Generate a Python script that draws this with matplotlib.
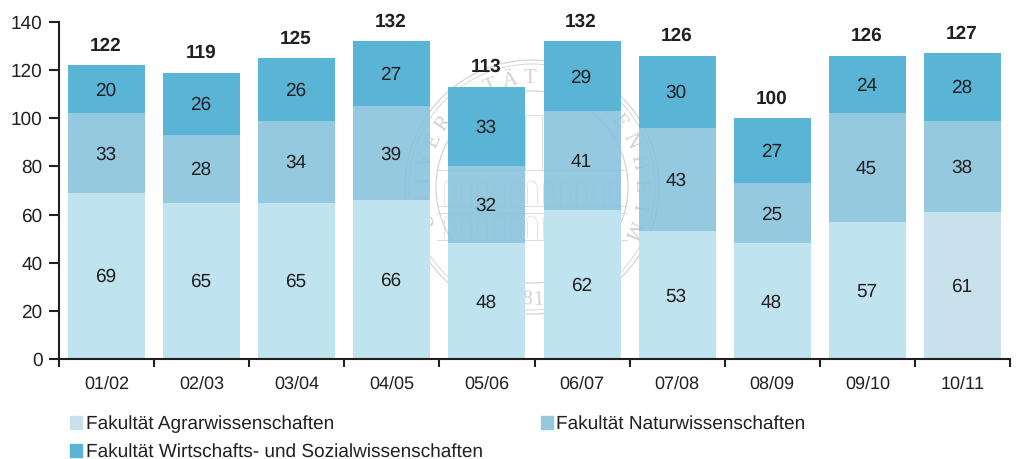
import matplotlib
matplotlib.use("Agg")
import matplotlib.pyplot as plt
import matplotlib.transforms as mtrans
from matplotlib.patches import Arc, Circle, Patch
import numpy as np

plt.rcParams['font.family'] = ['Liberation Sans', 'DejaVu Sans']
plt.rcParams['text.hinting'] = 'no_hinting'
plt.rcParams['text.hinting_factor'] = 1

semester = ["01/02", "02/03", "03/04", "04/05", "05/06", "06/07", "07/08", "08/09", "09/10", "10/11"]
agrar = [69, 65, 65, 66, 48, 62, 53, 48, 57, 61]
natur = [33, 28, 34, 39, 32, 41, 43, 25, 45, 38]
wiso = [20, 26, 26, 27, 33, 29, 30, 27, 24, 28]
gesamt = [122, 119, 125, 132, 113, 132, 126, 100, 126, 127]
namen = ["Fakultät Agrarwissenschaften", "Fakultät Naturwissenschaften",
         "Fakultät Wirtschafts- und Sozialwissenschaften"]

dunkel = "#231F20"
c_agrar = "#BFE3EF"
c_agrar_leg = "#C8E1ED"
c_natur = "#96C9E0"
c_wiso = "#59B4D6"
c_siegel = "#D2D0D0"

fig = plt.figure(figsize=(10.16, 4.59), dpi=100)
ax = fig.add_axes([59 / 1016, 1 - 359 / 459, 951 / 1016, 337 / 459])

x = np.arange(len(semester)) + 0.5
agrar_a = np.array(agrar)
natur_a = np.array(natur)
wiso_a = np.array(wiso)

# mittlere Balken leicht transparent, das Siegel scheint dort durch
ax.bar(x, natur_a, 0.81, bottom=agrar_a, color="#8AC3DD", alpha=0.9, linewidth=0, zorder=2)
farben = [c_agrar] * 9 + [c_agrar_leg]
ax.bar(x, agrar_a, 0.81, color=farben, linewidth=0, zorder=3)
ax.bar(x, wiso_a, 0.81, bottom=agrar_a + natur_a, color=c_wiso, linewidth=0, zorder=3)

for i in range(len(x)):
    ax.text(x[i] - 0.01, agrar[i] / 2 + 0.3, str(agrar[i]), ha="center", va="center_baseline", fontsize=13.5, color=dunkel, zorder=5)
    ax.text(x[i] - 0.01, agrar[i] + natur[i] / 2 + 0.3, str(natur[i]), ha="center", va="center_baseline", fontsize=13.5, color=dunkel, zorder=5)
    ax.text(x[i] - 0.01, agrar[i] + natur[i] + wiso[i] / 2 + 0.3, str(wiso[i]), ha="center", va="center_baseline", fontsize=13.5, color=dunkel, zorder=5)
    ax.text(x[i] - 0.01, gesamt[i] + 9, str(gesamt[i]), ha="center", va="center_baseline", fontsize=13.5, fontweight="bold", color=dunkel, zorder=5)

# Siegel im Hintergrund, Koordinaten in Bildpixeln
px = mtrans.Affine2D().scale(1, -1).translate(0, 459)
cx, cy = 532, 187
for r, lw in [(127, 0.8), (123, 0.6), (96, 0.8)]:
    ax.add_patch(Circle((cx, cy), r, transform=px, fill=False, ec=c_siegel, lw=lw, zorder=1, clip_on=False))

def kreistext(text, start, schritt, r, unten=False):
    for k, z in enumerate(text):
        w = np.radians(start + k * schritt)
        rot = np.degrees(w) - 90 if not unten else np.degrees(w) + 90
        ax.text(cx + r * np.cos(w), cy - r * np.sin(w), z, transform=px, rotation=rot,
                rotation_mode="anchor", ha="center", va="center", fontsize=15,
                family=["Liberation Serif"], color=c_siegel, zorder=1, clip_on=False)

kreistext("UNIVERSITÄT", 198, -10.7, 109)
kreistext("HOHENHEIM", 73, -12, 109)
kreistext("1818", 262, 5.5, 113, unten=True)

# Gebaeude
for y0 in [170, 206, 213, 240]:
    ax.plot([437, 627], [y0, y0], transform=px, color=c_siegel, lw=0.5, zorder=1)
ax.plot([525, 525, 542, 542], [170, 115, 115, 170], transform=px, color=c_siegel, lw=0.5, zorder=1)
for reihe, (oben, unten) in enumerate([(186, 204), (221, 238)]):
    for wx in np.arange(449, 625, 16.5):
        ax.plot([wx - 5, wx - 5], [oben, unten], transform=px, color=c_siegel, lw=0.4, zorder=1)
        ax.plot([wx + 5, wx + 5], [oben, unten], transform=px, color=c_siegel, lw=0.4, zorder=1)
        ax.add_patch(Arc((wx, oben), 10, 10, theta1=180, theta2=360, transform=px, ec=c_siegel, lw=0.4, zorder=1))

ax.set_xlim(0, 10)
ax.set_ylim(0, 140)
ax.set_yticks(np.arange(0, 141, 20))
ax.set_xticks(np.arange(0, 11))
ax.set_xticklabels([])
ax.set_xticks(x, minor=True)
ax.set_xticklabels(semester, minor=True, fontsize=13.2, color=dunkel)
ax.tick_params(axis="x", which="major", length=6, width=1.5, color=dunkel)
ax.tick_params(axis="x", which="minor", length=0, pad=12)
ax.tick_params(axis="y", length=7, width=1.5, color=dunkel, labelsize=13.5, labelcolor=dunkel, pad=5)
ax.spines["top"].set_visible(False)
ax.spines["right"].set_visible(False)
ax.spines["left"].set_linewidth(1.5)
ax.spines["bottom"].set_linewidth(1.5)
ax.spines["left"].set_color(dunkel)
ax.spines["bottom"].set_color(dunkel)
ax.spines["left"].set_zorder(6)
ax.spines["bottom"].set_zorder(6)

griffe = [Patch(color=c_agrar_leg, label=namen[0]), Patch(color=c_wiso, label=namen[2]),
          Patch(color=c_natur, label=namen[1])]
fig.legend(handles=griffe, ncol=2, loc="upper left", bbox_to_anchor=(70 / 1016, 1 - 415 / 459),
           borderaxespad=0, borderpad=0, frameon=False, fontsize=13.4, labelcolor=dunkel,
           handlelength=0.65, handleheight=0.7, handletextpad=0.2, columnspacing=3.1, labelspacing=0.55)

fig.savefig("out.png", dpi=100)
